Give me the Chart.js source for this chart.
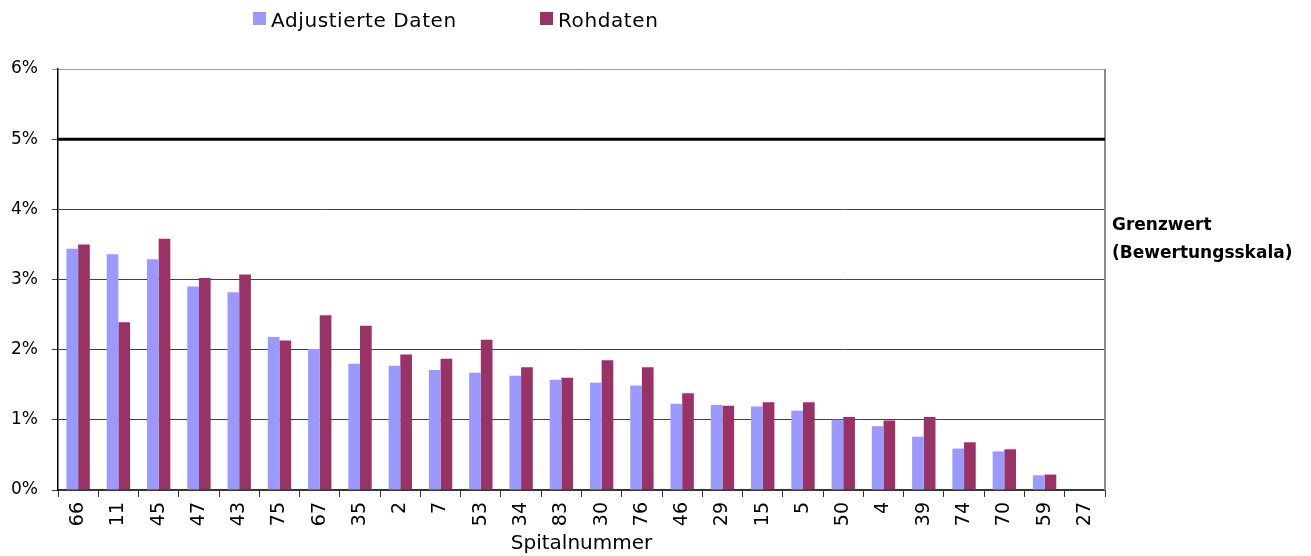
<!DOCTYPE html>
<html>
<head>
<meta charset="utf-8">
<script src="https://cdn.jsdelivr.net/npm/chart.js@4.4.0/dist/chart.umd.min.js"></script>
<style>
  html, body { margin: 0; padding: 0; background: #fff; }
  #wrap { width: 1311px; height: 556px; }
</style>
</head>
<body>
<div id="wrap"><canvas id="chart"></canvas></div>
<script>
const spitaeler = ["66","11","45","47","43","75","67","35","2","7","53","34","83","30","76","46","29","15","5","50","4","39","74","70","59","27"];
const adjustiert = [3.44,3.36,3.29,2.90,2.82,2.18,2.01,1.80,1.77,1.71,1.67,1.63,1.57,1.53,1.49,1.23,1.21,1.19,1.13,1.00,0.91,0.76,0.59,0.55,0.21,0];
const rohdaten = [3.50,2.39,3.58,3.02,3.07,2.13,2.49,2.34,1.93,1.87,2.14,1.75,1.60,1.85,1.75,1.38,1.20,1.25,1.25,1.04,0.99,1.04,0.68,0.58,0.22,0];
const grenzwert = 5;
const grenzText = ["Grenzwert", "(Bewertungsskala)"];

const font = "'DejaVu Sans', sans-serif";

// threshold line, frame, legend and side note
const extras = {
  id: "extras",
  afterDatasetsDraw(chart) {
    const { ctx, chartArea: a, scales: { y } } = chart;
    ctx.save();
    // right frame
    ctx.strokeStyle = "#8c8c8c";
    ctx.lineWidth = 2;
    ctx.beginPath();
    ctx.moveTo(a.right, a.top);
    ctx.lineTo(a.right, a.bottom);
    ctx.stroke();
    // Grenzwert line
    const gy = y.getPixelForValue(grenzwert);
    ctx.strokeStyle = "#000";
    ctx.lineWidth = 3;
    ctx.beginPath();
    ctx.moveTo(a.left, gy);
    ctx.lineTo(a.right, gy);
    ctx.stroke();
    // side note
    ctx.fillStyle = "#000";
    ctx.font = "bold 17px " + font;
    ctx.textAlign = "left";
    ctx.textBaseline = "alphabetic";
    ctx.fillText(grenzText[0], a.right + 7, 230);
    ctx.fillText(grenzText[1], a.right + 7, 258);
    // legend
    ctx.font = "20px " + font;
    ctx.letterSpacing = "0.6px";
    const pos = [253, 540];
    chart.data.datasets.forEach((ds, i) => {
      ctx.fillStyle = ds.backgroundColor;
      ctx.fillRect(pos[i], 12, 13, 13);
      ctx.fillStyle = "#000";
      ctx.fillText(ds.label, pos[i] + 18, 27);
    });
    ctx.restore();
  }
};

new Chart(document.getElementById("chart"), {
  type: "bar",
  data: {
    labels: spitaeler,
    datasets: [
      { label: "Adjustierte Daten", data: adjustiert, backgroundColor: "#9999ff" },
      { label: "Rohdaten", data: rohdaten, backgroundColor: "#993366" }
    ]
  },
  options: {
    responsive: true,
    maintainAspectRatio: false,
    animation: false,
    layout: { padding: { left: 0, right: 206, top: 69, bottom: 0 } },
    datasets: { bar: { categoryPercentage: 0.58, barPercentage: 1 } },
    plugins: { legend: { display: false }, tooltip: { enabled: false } },
    scales: {
      x: {
        afterFit: s => { s.height = 66; },
        grid: { drawOnChartArea: false, drawTicks: true, tickLength: 7, color: "#333" },
        border: { color: "#333", width: 1.5 },
        ticks: { color: "#000", font: { family: font, size: 19 }, minRotation: 90, maxRotation: 90, padding: 5, autoSkip: false },
        title: { display: true, text: "Spitalnummer", color: "#000", font: { family: font, size: 20 }, padding: { top: 0, bottom: 0 } }
      },
      y: {
        min: 0,
        max: 6,
        afterFit: s => { s.width = 58; },
        grid: {
          color: c => c.tick && c.tick.value === 6 ? "#999" : "#404040",
          lineWidth: 1,
          tickLength: 6
        },
        border: { color: "#000", width: 1.5 },
        ticks: { stepSize: 1, color: "#000", padding: 14, font: { family: font, size: 17 }, callback: v => v + "%" }
      }
    }
  },
  plugins: [extras]
});
</script>
</body>
</html>
